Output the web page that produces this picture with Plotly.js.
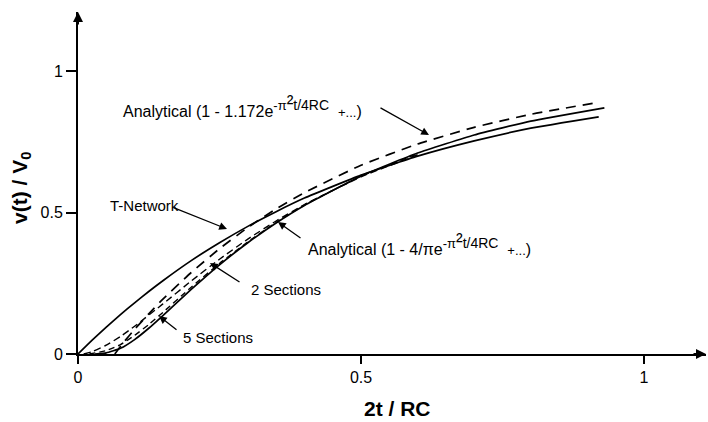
<!DOCTYPE html>
<html>
<head>
<meta charset="utf-8">
<script src="https://cdn.plot.ly/plotly-3.0.1.min.js"></script>
<style>html,body{margin:0;padding:0;background:#fff;}#chart{width:708px;height:422px;}</style>
</head>
<body>
<div id="chart"></div>
<script>
// T-Network (solid)
const xTnet = [0, 0.025, 0.05, 0.075, 0.1, 0.125, 0.15, 0.2, 0.25, 0.3, 0.35, 0.4, 0.5, 0.6, 0.7, 0.8, 0.92];
const yTnet = [0, 0.049, 0.095, 0.139, 0.181, 0.221, 0.259, 0.330, 0.393, 0.451, 0.503, 0.551, 0.632, 0.699, 0.753, 0.798, 0.838];
// Analytical (1 - 4/pi e^...) (solid)
const xExact = [0.03, 0.05, 0.075, 0.1, 0.125, 0.15, 0.2, 0.25, 0.3, 0.35, 0.4, 0.5, 0.6, 0.7, 0.8, 0.93];
const yExact = [0, 0.004, 0.020, 0.051, 0.091, 0.136, 0.228, 0.315, 0.393, 0.463, 0.525, 0.629, 0.710, 0.774, 0.823, 0.870];
// Analytical (1 - 1.172 e^...) (dashed)
const xOneTerm = [0.065, 0.08, 0.1, 0.125, 0.15, 0.2, 0.25, 0.3, 0.35, 0.4, 0.5, 0.6, 0.7, 0.8, 0.91];
const yOneTerm = [0, 0.040, 0.087, 0.142, 0.194, 0.288, 0.372, 0.447, 0.513, 0.570, 0.667, 0.742, 0.801, 0.847, 0.886];
// 2 Sections (dashed)
const x2Sec = [0.01, 0.025, 0.05, 0.075, 0.1, 0.15, 0.2, 0.25, 0.3, 0.35, 0.4, 0.5, 0.6];
const y2Sec = [0, 0.008, 0.031, 0.062, 0.098, 0.177, 0.258, 0.335, 0.406, 0.470, 0.528, 0.626, 0.704];
// 5 Sections (dashed)
const x5Sec = [0.02, 0.05, 0.075, 0.1, 0.125, 0.15, 0.2, 0.25, 0.3, 0.35, 0.4, 0.5, 0.6];
const y5Sec = [0, 0.012, 0.033, 0.066, 0.104, 0.147, 0.236, 0.320, 0.396, 0.465, 0.526, 0.628, 0.708];

const xTickVals = [0, 0.5, 1];
const xTickText = ['0', '0.5', '1'];
const yTickVals = [0, 0.5, 1];
const yTickText = ['0', '0.5', '1'];

const FONT = 'Liberation Sans, Arial, Helvetica, sans-serif';

function line(x, y, dash, w) {
  return {x: x, y: y, type: 'scatter', mode: 'lines', showlegend: false, hoverinfo: 'skip',
    line: {color: '#000', width: w, dash: dash, shape: 'spline', smoothing: 0.4}};
}

const traces = [
  line(xTnet, yTnet, 'solid', 1.7),
  line(xExact, yExact, 'solid', 1.7),
  line(xOneTerm, yOneTerm, '10px,7px', 1.7),
  line(x2Sec, y2Sec, '7px,4px', 1.4),
  line(x5Sec, y5Sec, '6px,4px', 1.4)
];

// pixel -> data / paper helpers for annotation placement
const X0 = 78, XS = 566, Y0 = 354, YS = 283;
const px = p => (p - X0) / XS;
const py = p => (Y0 - p) / YS;
const ppx = p => (p - 78) / 628;
const ppy = p => (354 - p) / 342;

function label(text, lx, ly, size) {
  return {x: px(lx), y: py(ly), xref: 'x', yref: 'y', text: text, showarrow: false,
    xanchor: 'left', yanchor: 'middle', font: {family: FONT, size: size || 15, color: '#000'}};
}
function arrow(tx, ty, fx, fy) {
  return {x: px(tx), y: py(ty), xref: 'x', yref: 'y', text: '', showarrow: true,
    ax: fx - tx, ay: fy - ty, arrowhead: 2, arrowsize: 1.2, arrowwidth: 1.3, arrowcolor: '#000'};
}
const EXP = '<sup><span style="font-size:13px">-π</span><span style="font-size:20px">²</span><span style="font-size:14px">t/4RC</span></sup>';
const TAIL = '  <span style="font-size:13px">+...</span>)';

const annotations = [
  label('Analytical (1 - 1.172e' + EXP + TAIL, 121, 106, 16),
  arrow(429, 135, 379, 107),
  label('T-Network', 108, 205),
  arrow(227, 229, 172, 207),
  label('Analytical (1 - 4/πe' + EXP + TAIL, 306, 244, 16),
  arrow(278, 222, 302, 239),
  label('2 Sections', 249, 289),
  arrow(210, 263, 241, 283),
  label('5 Sections', 181, 337),
  arrow(159, 316, 178, 331),
  // axis arrowheads
  {x: 0, y: py(12), xref: 'x', yref: 'y', text: '', showarrow: true, ax: 0, ay: 14,
   arrowhead: 2, arrowsize: 1, arrowwidth: 2, arrowcolor: '#000'},
  {x: px(706), y: 0, xref: 'x', yref: 'y', text: '', showarrow: true, ax: -14, ay: 0,
   arrowhead: 2, arrowsize: 1, arrowwidth: 2, arrowcolor: '#000'},
  // axis titles
  {x: ppx(397), y: ppy(408), xref: 'paper', yref: 'paper', text: '<b>2t / RC</b>', showarrow: false,
   xanchor: 'center', yanchor: 'middle', font: {family: FONT, size: 21, color: '#000'}},
  {x: ppx(21), y: ppy(188), xref: 'paper', yref: 'paper', text: '<b>v(t) / V<sub>0</sub></b>', showarrow: false,
   textangle: -90, xanchor: 'center', yanchor: 'middle', font: {family: FONT, size: 21, color: '#000'}}
];

const layout = {
  width: 708, height: 422,
  margin: {l: 78, r: 2, t: 12, b: 68, pad: 0},
  paper_bgcolor: '#fff', plot_bgcolor: '#fff',
  font: {family: FONT, size: 16, color: '#000'},
  xaxis: {range: [0, px(706)], showgrid: false, zeroline: false, showline: true, linecolor: '#000', linewidth: 2,
    ticks: 'outside', ticklen: 8, tickwidth: 2, tickcolor: '#000', tickvals: xTickVals, ticktext: xTickText,
    tickfont: {family: FONT, size: 16}, fixedrange: true},
  yaxis: {range: [0, py(12)], showgrid: false, zeroline: false, showline: true, linecolor: '#000', linewidth: 2,
    ticks: 'outside', ticklen: 10, tickwidth: 2, tickcolor: '#000', tickvals: yTickVals, ticktext: yTickText,
    tickfont: {family: FONT, size: 16}, fixedrange: true},
  annotations: annotations,
  showlegend: false
};

Plotly.newPlot('chart', traces, layout, {displayModeBar: false, staticPlot: true});
</script>
</body>
</html>
